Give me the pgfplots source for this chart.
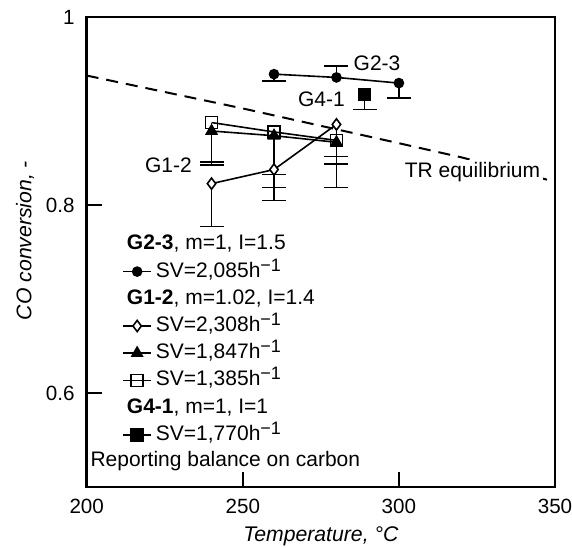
\documentclass[border=0pt]{standalone}
\usepackage{fontspec}
\setmainfont{Liberation Sans}
\usepackage{pgfplots}
\pgfplotsset{compat=1.18}
\newcommand{\inv}{\raisebox{0.55ex}{\fontsize{9}{9}\selectfont −1}}
\begin{document}
\begin{tikzpicture}
\begin{axis}[
  scale only axis, width=234.2pt, height=235pt,
  xmin=200, xmax=350, ymin=0.5, ymax=1,
  xtick={200,250,300,350}, ytick={0.6,0.8,1},
  yticklabels={0.6,0.8,1},
  tick align=inside, tick pos=left, major tick length=7.5pt,
  axis line style={line width=1.2pt},
  every tick/.style={line width=1pt, black},
  /pgf/number format/assume math mode=true,
  ticklabel style={font=\fontsize{10.3}{12}\selectfont},
  yticklabel style={xshift=-2.5pt},
  xticklabel style={yshift=-2.2pt},
  every axis x label/.style={at={(axis description cs:0.5,0)}, yshift=-27.4pt, anchor=base, inner sep=0pt, font=\fontsize{10.6}{12}\selectfont\itshape},
  every axis y label/.style={at={(axis description cs:0,0.525)}, xshift=-30.85pt, rotate=90, anchor=center, font=\fontsize{10.6}{12}\selectfont\itshape},
  xlabel={Temperature, °C},
  ylabel={CO conversion, -},
  legend cell align=left,
  legend style={at={(axis cs:211.3,0.771)}, anchor=north west, draw=none, fill=none,
    inner sep=0pt, row sep=2.1pt,
    nodes={inner ysep=0.5pt, inner xsep=2pt, text height=8pt, text depth=2.5pt, font=\fontsize{10.5}{12}\selectfont}},
  legend image code/.code={\draw[mark repeat=2,mark phase=2] plot coordinates {(0pt,0pt) (7pt,0pt) (14pt,0pt)};},
  error bars/error bar style={line width=0.7pt, black},
  error bars/error mark options={rotate=90, line width=0.7pt, mark size=6pt, black},
]
\coordinate (sw) at (rel axis cs:0,0);
\coordinate (ne) at (rel axis cs:1,1);

% TR equilibrium
\addplot[forget plot, black, line width=1pt, dash pattern=on 6pt off 4pt] coordinates {
  (200,0.938) (250,0.903) (300,0.866) (320,0.851) (350,0.825)};

% G2-3 header
\addlegendimage{legend image code/.code={}}
\addlegendentry{\hspace*{-14.5pt}\textbf{G2-3}, m=1, I=1.5}
% G2-3 series
\addplot[black, line width=0.8pt, mark=*, mark size=2.25pt, mark options={solid, fill=black}] coordinates {
  (260,0.9395) (280,0.936) (300,0.930)};
\addlegendentry{SV=2,085h\inv}
\addplot[forget plot, draw=none, mark=none, error bars/.cd, y dir=minus, y explicit] coordinates {
  (260,0.9395) +- (0,0.0075)
  (300,0.930) +- (0,0.016)};
\addplot[forget plot, draw=none, mark=none, error bars/.cd, y dir=plus, y explicit] coordinates {
  (280,0.936) +- (0,0.012)};

% G1-2 header
\addlegendimage{legend image code/.code={}}
\addlegendentry{\hspace*{-14.5pt}\textbf{G1-2}, m=1.02, I=1.4}
% diamonds
\addplot[black, line width=0.8pt, mark=diamond*, mark size=2.8pt, mark options={solid, fill=white},
  error bars/.cd, y dir=minus, y explicit] coordinates {
  (240,0.823) +- (0,0.0455)
  (260,0.838) +- (0,0.005)
  (280,0.886) +- (0,0.067)};
\addlegendentry{SV=2,308h\inv}
% triangles
\addplot[black, line width=0.8pt, mark=triangle*, mark size=3pt, mark options={solid, fill=black},
  error bars/.cd, y dir=minus, y explicit] coordinates {
  (240,0.879) +- (0,0.036)
  (260,0.874) +- (0,0.069)
  (280,0.867) +- (0,0.023)};
\addlegendentry{SV=1,847h\inv}
% squares
\addplot[black, line width=0.8pt, mark=square, mark size=3pt, mark options={solid},
  error bars/.cd, y dir=minus, y explicit] coordinates {
  (240,0.888) +- (0,0.042)
  (260,0.878) +- (0,0.059)
  (280,0.869) +- (0,0.017)};
\addlegendentry{SV=1,385h\inv}

% G4-1 header
\addlegendimage{legend image code/.code={}}
\addlegendentry{\hspace*{-14.5pt}\textbf{G4-1}, m=1, I=1}
\addplot[black, line width=0.8pt, mark=square*, mark size=3pt, mark options={solid, fill=black},
  error bars/.cd, y dir=minus, y explicit] coordinates {
  (289,0.918) +- (0,0.016)};
\addlegendentry{SV=1,770h\inv}

\node[anchor=west, font=\fontsize{10.5}{12}\selectfont, inner sep=0pt] at (axis cs:285.4,0.951) {G2-3};
\node[anchor=east, font=\fontsize{10.5}{12}\selectfont, inner sep=0pt] at (axis cs:282.8,0.913) {G4-1};
\node[anchor=east, font=\fontsize{10.5}{12}\selectfont, inner sep=0pt] at (axis cs:233.8,0.843) {G1-2};
\node[anchor=west, font=\fontsize{10.5}{12}\selectfont, fill=white, inner sep=1.5pt] at (axis cs:300.8,0.835) {TR equilibrium};
\node[anchor=west, font=\fontsize{10.5}{12}\selectfont, inner sep=0pt] at (axis cs:201.1,0.528) {Reporting balance on carbon};
\end{axis}
\pgfresetboundingbox
\path[use as bounding box] ([shift={(-43.35pt,-30pt)}]sw) rectangle ([shift={(8.5pt,8.65pt)}]ne);
\end{tikzpicture}
\end{document}
